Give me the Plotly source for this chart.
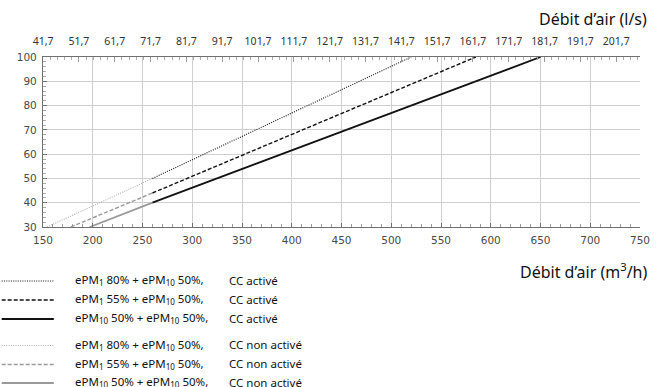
import plotly.graph_objects as go

# ---- data ----
x_act_80 = [260, 520]
y_act_80 = [50, 100]
x_act_55 = [260, 585]
y_act_55 = [44, 100]
x_act_10 = [260, 650]
y_act_10 = [40, 100]

x_non_80 = [154, 260]
y_non_80 = [30, 50]
x_non_55 = [178, 260]
y_non_55 = [30, 44]
x_non_10 = [197, 260]
y_non_10 = [30, 40]

top_tick_labels = ["41,7", "51,7", "61,7", "71,7", "81,7", "91,7", "101,7", "111,7",
                   "121,7", "131,7", "141,7", "151,7", "161,7", "171,7", "181,7",
                   "191,7", "201,7"]
bottom_ticks = [150, 200, 250, 300, 350, 400, 450, 500, 550, 600, 650, 700, 750]
y_ticks = [30, 40, 50, 60, 70, 80, 90, 100]

legend_filters = ["ePM<sub>1</sub> 80% + ePM<sub>10</sub> 50%,",
                  "ePM<sub>1</sub> 55% + ePM<sub>10</sub> 50%,",
                  "ePM<sub>10</sub> 50% + ePM<sub>10</sub> 50%,"]
legend_states = ["CC activé", "CC non activé"]

# ---- layout geometry ----
W, H = 662, 387
L, R, T, B = 43, 12, 57, 160
pw, ph = W - L - R, H - T - B

def px(x):
    return (x - L) / pw

def py(y):
    return 1 - (y - T) / ph

BLACK = "#111111"
GRAY = "#9a9a9a"
GRAY_LIGHT = "#b0b0b0"
styles = [
    dict(dash="1px,1.3px", width=1.1),
    dict(dash="4px,2px", width=1.4),
    dict(dash="solid", width=1.8),
]

fig = go.Figure()
act = [(x_act_80, y_act_80), (x_act_55, y_act_55), (x_act_10, y_act_10)]
non = [(x_non_80, y_non_80), (x_non_55, y_non_55), (x_non_10, y_non_10)]
non_colors = [GRAY_LIGHT, GRAY, GRAY]
for i, (xs, ys) in enumerate(non):
    fig.add_trace(go.Scatter(x=xs, y=ys, mode="lines", showlegend=False,
                             line=dict(color=non_colors[i], **styles[i])))
for i, (xs, ys) in enumerate(act):
    fig.add_trace(go.Scatter(x=xs, y=ys, mode="lines", showlegend=False,
                             line=dict(color=BLACK, **styles[i])))

# dummy trace for top axis
top_vals = [float(t.replace(",", ".")) for t in top_tick_labels]
fig.add_trace(go.Scatter(x=[top_vals[0]], y=[30], xaxis="x2", mode="markers",
                         marker=dict(opacity=0), showlegend=False, hoverinfo="skip"))

tickfont = dict(family="DejaVu Sans, sans-serif", size=10.5, color="#4a4a4a")
topfont = dict(family="Noto Sans, sans-serif", size=10.5, color="#333333")
GRID = "#cfcfcf"
AX = "#707070"

fig.update_layout(
    width=W, height=H,
    margin=dict(l=L, r=R, t=T, b=B),
    plot_bgcolor="white", paper_bgcolor="white",
    xaxis=dict(range=[150, 750], tickvals=bottom_ticks, showgrid=True, gridcolor=GRID,
               gridwidth=1, showline=True, linecolor=AX, linewidth=1.2,
               ticks="inside", ticklen=4, tickcolor=AX, tickfont=tickfont,
               ticklabelstandoff=3,
               minor=dict(dtick=10, tick0=150, ticks="inside", ticklen=3, tickcolor="#999999",
                          showgrid=False),
               zeroline=False, fixedrange=True),
    xaxis2=dict(range=[150 / 3.6, 750 / 3.6], overlaying="x", side="top",
                tickvals=top_vals, ticktext=top_tick_labels, showgrid=False,
                showline=True, linecolor=AX, linewidth=1.2,
                ticks="inside", ticklen=5, tickcolor="#999999", tickfont=topfont,
                ticklabelstandoff=7,
                minor=dict(dtick=2, tick0=41.7, ticks="inside", ticklen=3, tickcolor="#aaaaaa"),
                zeroline=False),
    yaxis=dict(range=[30, 100], tickvals=y_ticks, showgrid=True, gridcolor=GRID,
               showline=True, linecolor=AX, linewidth=1.2,
               ticks="inside", ticklen=4, tickcolor=AX, tickfont=tickfont,
               ticklabelstandoff=3,
               minor=dict(dtick=2, ticks="inside", ticklen=3, tickcolor="#aaaaaa", showgrid=False),
               zeroline=False, mirror=False),
)

title_font = dict(family="Noto Sans, Open Sans, sans-serif", size=16, color="#111111")
fig.add_annotation(text="Débit d’air (l/s)", xref="paper", yref="paper",
                   x=px(659), y=py(19), xanchor="right", yanchor="middle",
                   showarrow=False, font=title_font)
fig.add_annotation(text="Débit d’air (m<sup>3</sup>/h)", xref="paper", yref="paper",
                   x=px(659), y=py(271), xanchor="right", yanchor="middle",
                   showarrow=False, font=title_font)

# legend
leg_font = dict(family="Noto Sans, Open Sans, sans-serif", size=11.5, color="#111111")
rows_y = [281, 300, 319, 345.5, 364.5, 383]
for g, state in enumerate(legend_states):
    for i, label in enumerate(legend_filters):
        yy = rows_y[g * 3 + i]
        color = BLACK if g == 0 else non_colors[i]
        fig.add_shape(type="line", xref="paper", yref="paper",
                      x0=px(1), x1=px(54), y0=py(yy), y1=py(yy),
                      line=dict(color=color, **styles[i]))
        fig.add_annotation(text=label, xref="paper", yref="paper",
                           x=px(73), y=py(yy - 1), xanchor="left", yanchor="middle",
                           showarrow=False, font=leg_font)
        fig.add_annotation(text=state, xref="paper", yref="paper",
                           x=px(230), y=py(yy - 1), xanchor="left", yanchor="middle",
                           showarrow=False, font=leg_font)

fig.write_html("out.html", config={"displayModeBar": False},
               post_script="document.body.style.margin='0';")
